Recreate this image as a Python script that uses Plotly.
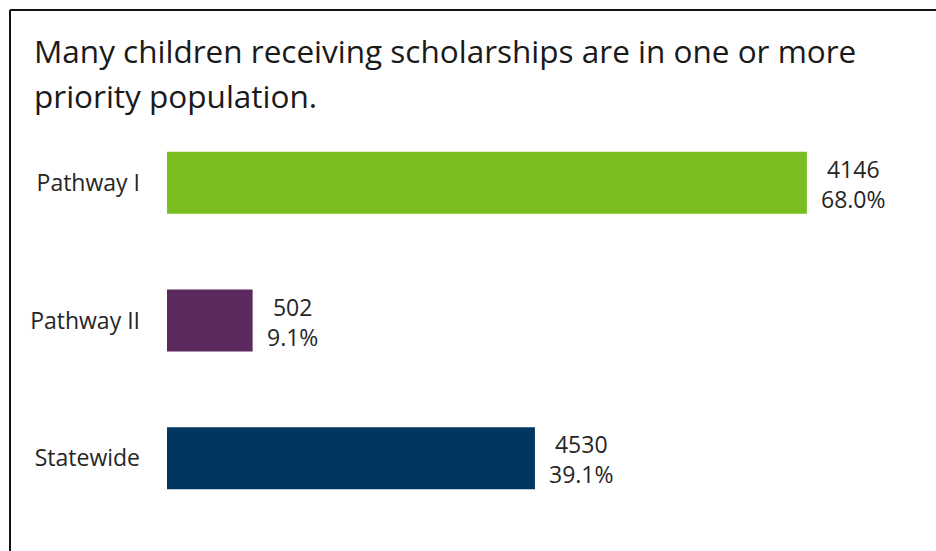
import plotly.graph_objects as go

categories = ["Pathway I", "Pathway II", "Statewide"]
counts = [4146, 502, 4530]
percents = [68.0, 9.1, 39.1]
colors = ["#78BE20", "#5C2A5E", "#003660"]
title_lines = ["Many children receiving scholarships are in one or more", "priority population."]

W, H = 936, 551
ml, mr, mt, mb = 167, 92, 114, 24
pw = W - ml - mr
ph = H - mt - mb

fig = go.Figure(go.Bar(
    y=categories, x=percents, orientation="h",
    marker=dict(color=colors, line=dict(width=0)),
    width=0.45, hoverinfo="skip",
))

annotations = []
for c, n, p in zip(categories, counts, percents):
    annotations.append(dict(
        x=p, y=c, xref="x", yref="y", text=f"{n}<br>{p:.1f}%",
        showarrow=False, xanchor="left", yanchor="middle", xshift=12, yshift=-1,
        align="center", font=dict(family="Open Sans", size=23, color="#262626"),
    ))

title_y = [74, 119]
for t, yb in zip(title_lines, title_y):
    annotations.append(dict(
        x=(32 - ml) / pw, y=1 + (mt - yb) / ph, xref="paper", yref="paper",
        text=t, showarrow=False, xanchor="left", yanchor="bottom",
        font=dict(family="Open Sans", size=31.5, color="#1a1a1a"),
    ))

fig.update_layout(
    width=W, height=H,
    margin=dict(l=ml, r=mr, t=mt, b=mb, pad=0),
    paper_bgcolor="white", plot_bgcolor="white",
    showlegend=False,
    xaxis=dict(range=[0, pw / 9.41], visible=False, fixedrange=True),
    yaxis=dict(autorange="reversed", showgrid=False, zeroline=False, showline=False,
               ticks="", ticklabelstandoff=26, fixedrange=True,
               tickfont=dict(family="Open Sans", size=23, color="#262626")),
    annotations=annotations,
    shapes=[
        dict(type="line", xref="paper", yref="paper",
             x0=(10 - ml) / pw, x1=(W + 5 - ml) / pw, y0=1 + (mt - 10) / ph, y1=1 + (mt - 10) / ph,
             line=dict(color="#111111", width=2)),
        dict(type="line", xref="paper", yref="paper",
             x0=(10 - ml) / pw, x1=(10 - ml) / pw, y0=1 + (mt - 10) / ph, y1=-(mb + 5) / ph,
             line=dict(color="#111111", width=2)),
    ],
)

fig.write_html("out.html", config={"displayModeBar": False},
               post_script="document.body.style.margin='0';document.body.style.overflow='hidden';")
